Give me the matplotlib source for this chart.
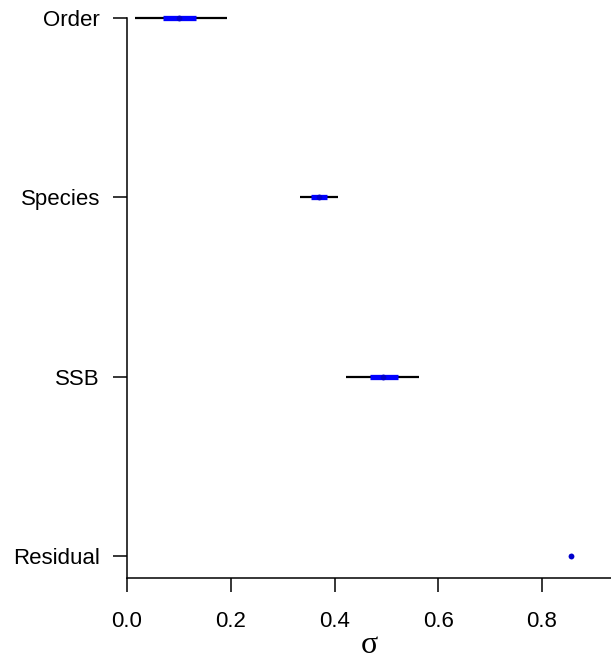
import matplotlib
matplotlib.use("Agg")
import matplotlib.pyplot as plt
import numpy as np

plt.rcParams['font.family'] = ['Liberation Sans', 'DejaVu Sans']

# data (top to bottom)
labels = ["Order", "Species", "SSB", "Residual"]
median = [0.101, 0.370, 0.494, 0.856]
lo95 = [0.015, 0.333, 0.422, 0.853]
hi95 = [0.192, 0.406, 0.563, 0.859]
lo50 = [0.070, 0.355, 0.468, 0.855]
hi50 = [0.133, 0.385, 0.522, 0.857]
xticks = [0.0, 0.2, 0.4, 0.6, 0.8]

W, H = 611, 662
fig = plt.figure(figsize=(W / 100, H / 100), dpi=100)
ax = fig.add_axes([127 / W, 84 / H, (W - 127) / W, 578 / H])

n = len(labels)
ypos = np.arange(n, 0, -1)  # Order=4 ... Residual=1

for y, m, a, b, c, d in zip(ypos, median, lo95, hi95, lo50, hi50):
    ax.plot([a, b], [y, y], color='black', lw=1.6, solid_capstyle='butt', zorder=2)
    ax.plot([c, d], [y, y], color='#0000ff', lw=3.8, solid_capstyle='butt', zorder=3)
    ax.plot([m], [y], marker='o', color='#0000cc', ms=4.2, mew=0, zorder=4)

ax.set_xlim(0, (W - 127) / 518.75)
ax.set_ylim(1 - 22 / 179.33, 4 + 18 / 179.33)

ax.set_yticks(ypos)
ax.set_yticklabels(labels)
ax.set_xticks(xticks)
ax.set_xticklabels([f"{t:.1f}" for t in xticks])

for s in ['top', 'right']:
    ax.spines[s].set_visible(False)
ax.spines['left'].set_bounds(1 - 22 / 179.33, 4)
ax.spines['left'].set_linewidth(1.1)
ax.spines['bottom'].set_linewidth(1.1)

ax.tick_params(axis='both', length=10, width=1.1, labelsize=16, colors='black')
ax.tick_params(axis='y', pad=9.5)
ax.tick_params(axis='x', pad=14)

ax.set_xlabel('σ', fontsize=23, family=['Liberation Serif', 'DejaVu Serif'], labelpad=-1)

fig.savefig("out.png", dpi=100)
